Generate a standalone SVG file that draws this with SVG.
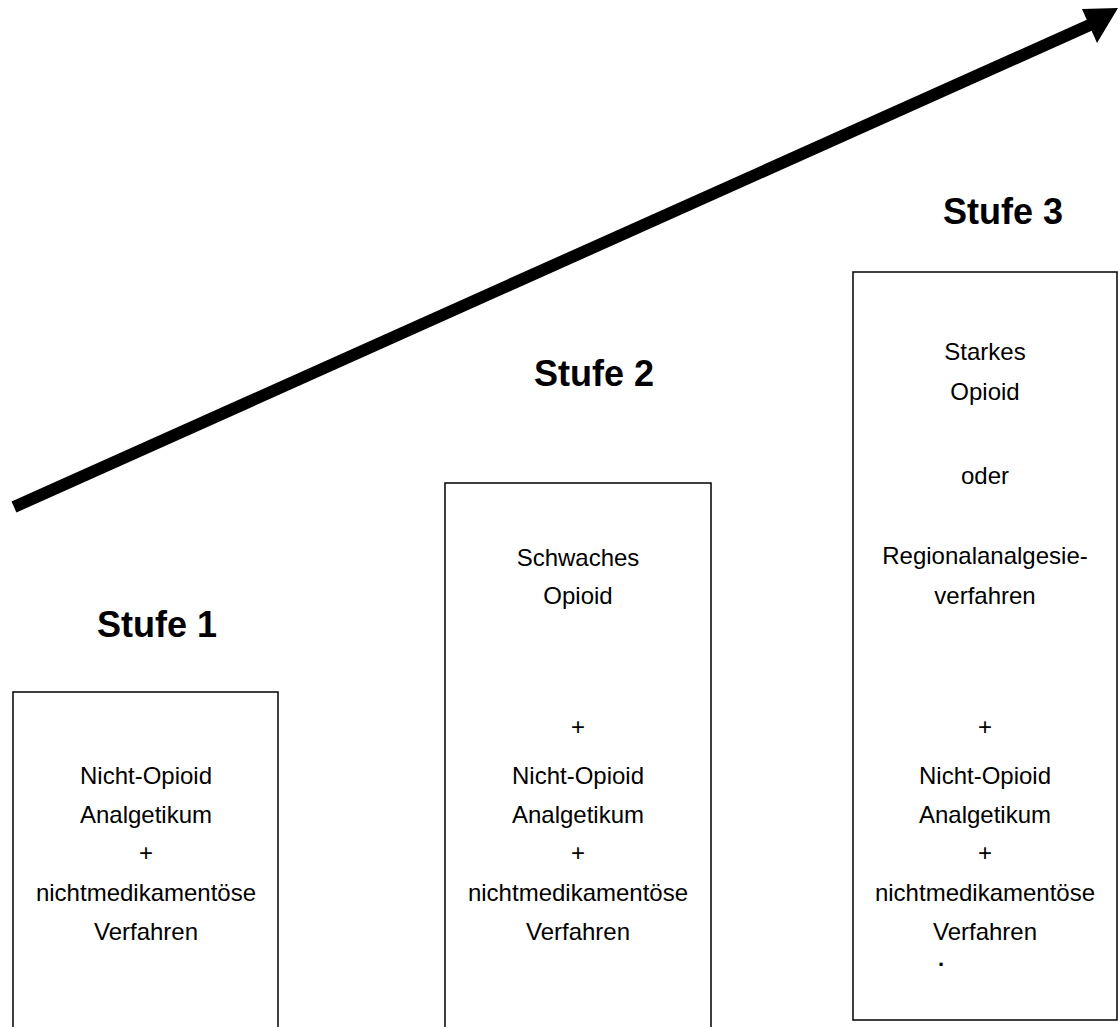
<svg xmlns="http://www.w3.org/2000/svg" width="1118" height="1027" viewBox="0 0 1118 1027">
<style>
.box{fill:#fff;stroke:#000;stroke-width:1.5}
.t{font-family:"Liberation Sans",Arial,sans-serif;font-size:24px;fill:#000;text-anchor:middle}
.dot{font-family:"Liberation Sans",Arial,sans-serif;font-size:22px;font-weight:bold;fill:#000;text-anchor:middle}
.h{font-family:"Liberation Sans",Arial,sans-serif;font-size:36px;font-weight:bold;fill:#000;text-anchor:middle}
.arrow{stroke:#000;stroke-width:12;fill:none}
.head{fill:#000}
</style>
<rect width="1118" height="1027" fill="#fff"/>
<g id="connectors">
<line class="arrow" x1="14" y1="507" x2="1092" y2="24"/>
<polygon class="head" points="1082,9 1118,8 1097,43"/>
</g>
<g id="stufe1">
<text class="h" x="157" y="637">Stufe 1</text>
<rect class="box" x="13" y="692" width="265" height="345"/>
<text class="t" x="146" y="784">Nicht-Opioid</text>
<text class="t" x="146" y="823">Analgetikum</text>
<text class="t" x="146" y="861">+</text>
<text class="t" x="146" y="901">nichtmedikamentöse</text>
<text class="t" x="146" y="940">Verfahren</text>
</g>
<g id="stufe2">
<text class="h" x="594" y="386">Stufe 2</text>
<rect class="box" x="445" y="483" width="266" height="554"/>
<text class="t" x="578" y="566">Schwaches</text>
<text class="t" x="578" y="604">Opioid</text>
<text class="t" x="578" y="735">+</text>
<text class="t" x="578" y="784">Nicht-Opioid</text>
<text class="t" x="578" y="823">Analgetikum</text>
<text class="t" x="578" y="861">+</text>
<text class="t" x="578" y="901">nichtmedikamentöse</text>
<text class="t" x="578" y="940">Verfahren</text>
</g>
<g id="stufe3">
<text class="h" x="1003" y="224">Stufe 3</text>
<rect class="box" x="853" y="272" width="264" height="748"/>
<text class="t" x="985" y="360">Starkes</text>
<text class="t" x="985" y="400">Opioid</text>
<text class="t" x="985" y="484">oder</text>
<text class="t" x="985" y="564">Regionalanalgesie-</text>
<text class="t" x="985" y="604">verfahren</text>
<text class="t" x="985" y="735">+</text>
<text class="t" x="985" y="784">Nicht-Opioid</text>
<text class="t" x="985" y="823">Analgetikum</text>
<text class="t" x="985" y="861">+</text>
<text class="t" x="985" y="901">nichtmedikamentöse</text>
<text class="t" x="985" y="940">Verfahren</text>
<text class="dot" x="941" y="966">.</text>
</g>
</svg>
